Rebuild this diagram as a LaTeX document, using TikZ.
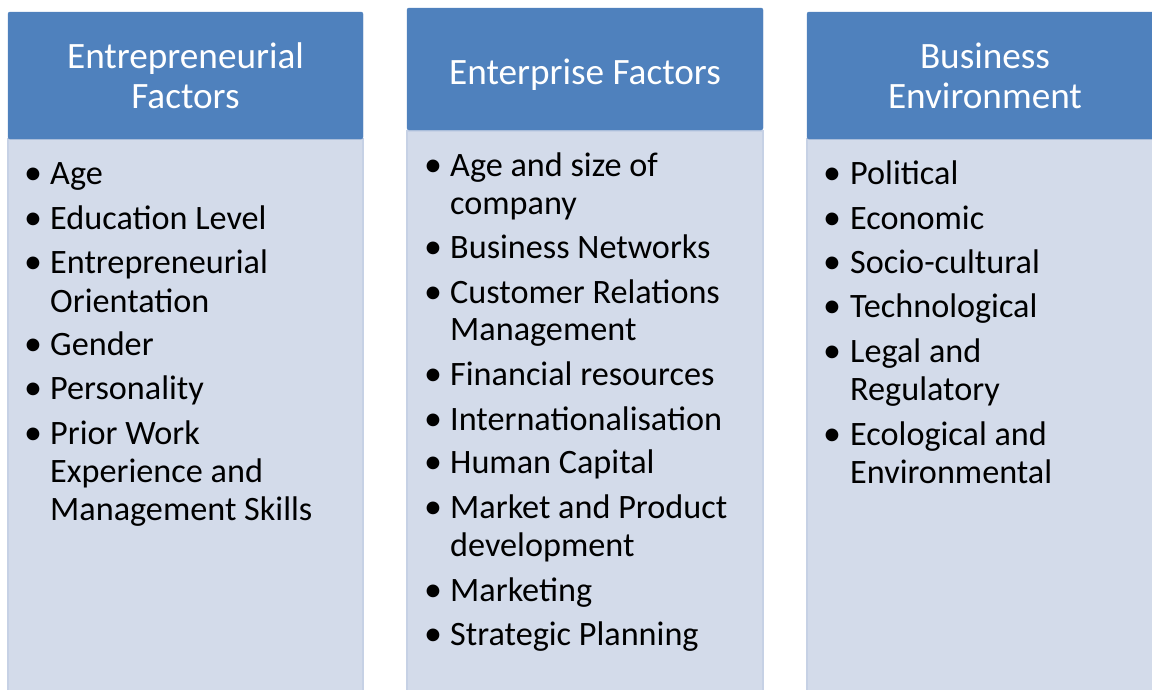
\documentclass[tikz,border=0pt]{standalone}
\usepackage{fontspec}
\setmainfont{Carlito}
\usepackage{tikz}
\definecolor{hdblue}{HTML}{4F81BD}
\definecolor{bdfill}{HTML}{D3DBEA}
\definecolor{bdline}{HTML}{C6D1E5}
\tikzset{%
    head/.style={fill=hdblue,draw=hdblue,rounded corners=2pt},
    body/.style={fill=bdfill,draw=bdline,line width=1.2pt},
    htxt/.style={text=white,font=\fontsize{37.2}{40}\selectfont,anchor=base,inner sep=0pt},
    btxt/.style={font=\fontsize{34.2}{38}\selectfont,anchor=base west,inner sep=0pt},
    bul/.style={font=\fontsize{36}{38}\selectfont,anchor=base,inner sep=0pt}
}

\begin{document}
\begin{tikzpicture}[x=1pt,y=-1pt]
        \useasboundingbox (0,0) rectangle (1152,689);
        \clip (0,0) rectangle (1152,689);

        % column boxes
        \draw[body] (8,139) rectangle (363,700);
        \draw[head] (8,12) rectangle (363,139);
        \draw[body] (407,131) rectangle (763,700);
        \draw[head] (407,8) rectangle (763,130);
        \draw[body] (807,139) rectangle (1163,700);
        \draw[head] (807,12) rectangle (1163,139);

        % headings
        \node[htxt] (h1a) at (185.5,68){Entrepreneurial};
        \node[htxt] (h1b) at (185.5,108){Factors};
        \node[htxt] (h2a) at (585,84){Enterprise Factors};
        \node[htxt] (h3a) at (985,68){Business};
        \node[htxt] (h3b) at (985,108){Environment};

        % entrepreneurial factors
        \node[bul] (b11) at (33,184){•};
        \node[btxt] (t11) at (50,184){Age};
        \node[bul] (b12) at (33,229){•};
        \node[btxt] (t12) at (50,229){Education Level};
        \node[bul] (b13) at (33,273){•};
        \node[btxt] (t13) at (50,273){Entrepreneurial};
        \node[btxt] (t13b) at (50,312){Orientation};
        \node[bul] (b14) at (33,355){•};
        \node[btxt] (t14) at (50,355){Gender};
        \node[bul] (b15) at (33,399){•};
        \node[btxt] (t15) at (50,399){Personality};
        \node[bul] (b16) at (33,444){•};
        \node[btxt] (t16) at (50,444){Prior Work};
        \node[btxt] (t16b) at (50,482){Experience and};
        \node[btxt] (t16c) at (50,520){Management Skills};

        % enterprise factors
        \node[bul] (b21) at (433,176){•};
        \node[btxt] (t21) at (450,176){Age and size of};
        \node[btxt] (t21b) at (450,214){company};
        \node[bul] (b22) at (433,258){•};
        \node[btxt] (t22) at (450,258){Business Networks};
        \node[bul] (b23) at (433,303){•};
        \node[btxt] (t23) at (450,303){Customer Relations};
        \node[btxt] (t23b) at (450,340){Management};
        \node[bul] (b24) at (433,385){•};
        \node[btxt] (t24) at (450,385){Financial resources};
        \node[bul] (b25) at (433,430){•};
        \node[btxt] (t25) at (450,430){Internationalisation};
        \node[bul] (b26) at (433,473){•};
        \node[btxt] (t26) at (450,473){Human Capital};
        \node[bul] (b27) at (433,518){•};
        \node[btxt] (t27) at (450,518){Market and Product};
        \node[btxt] (t27b) at (450,556){development};
        \node[bul] (b28) at (433,601){•};
        \node[btxt] (t28) at (450,601){Marketing};
        \node[bul] (b29) at (433,645){•};
        \node[btxt] (t29) at (450,645){Strategic Planning};

        % business environment
        \node[bul] (b31) at (832,184){•};
        \node[btxt] (t31) at (850,184){Political};
        \node[bul] (b32) at (832,229){•};
        \node[btxt] (t32) at (850,229){Economic};
        \node[bul] (b33) at (832,273){•};
        \node[btxt] (t33) at (850,273){Socio-cultural};
        \node[bul] (b34) at (832,317){•};
        \node[btxt] (t34) at (850,317){Technological};
        \node[bul] (b35) at (832,362){•};
        \node[btxt] (t35) at (850,362){Legal and};
        \node[btxt] (t35b) at (850,400){Regulatory};
        \node[bul] (b36) at (832,445){•};
        \node[btxt] (t36) at (850,445){Ecological and};
        \node[btxt] (t36b) at (850,483){Environmental};
    \end{tikzpicture}
\end{document}
